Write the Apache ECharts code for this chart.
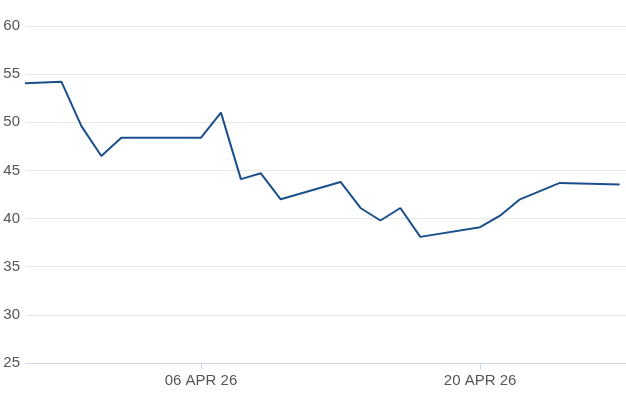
<!DOCTYPE html>
<html>
<head>
<meta charset="utf-8">
<script src="https://cdn.jsdelivr.net/npm/echarts@6/dist/echarts.min.js"></script>
<style>html,body{margin:0;padding:0;background:#fff}#c{width:626px;height:417px}</style>
</head>
<body>
<div id="c"></div>
<script>
const dates = ['2026-03-27','2026-03-30','2026-03-31','2026-04-01','2026-04-02','2026-04-06','2026-04-07','2026-04-08','2026-04-09','2026-04-10','2026-04-13','2026-04-14','2026-04-15','2026-04-16','2026-04-17','2026-04-20','2026-04-21','2026-04-22','2026-04-24','2026-04-27'];
const values = [53.95,54.2,49.6,46.5,48.4,48.4,51.0,44.1,44.7,42.0,43.8,41.1,39.8,41.1,38.1,39.1,40.3,42.0,43.7,43.55];
const tickDates = ['2026-04-06','2026-04-20'];
const axisStart = '2026-03-28T05:17:00Z';
const axisEnd = '2026-04-27T07:41:00Z';
const yTicks = [25,30,35,40,45,50,55,60];

const months = ['JAN','FEB','MAR','APR','MAY','JUN','JUL','AUG','SEP','OCT','NOV','DEC'];
const ts = d => Date.parse(d + 'T00:00:00Z');
const fmt = v => { const d = new Date(v); return String(d.getUTCDate()).padStart(2,'0') + ' ' + months[d.getUTCMonth()] + ' ' + String(d.getUTCFullYear()).slice(2); };

const chart = echarts.init(document.getElementById('c'), null, {renderer:'canvas'});
chart.setOption({
  animation: false,
  grid: {left: 26, right: 0, top: 26, bottom: 54, containLabel: false},
  xAxis: {
    type: 'value',
    min: Date.parse(axisStart),
    max: Date.parse(axisEnd),
    axisLine: {show: true, onZero: false, lineStyle: {color: '#ccd6eb', width: 1}},
    axisTick: {show: true, length: 6, lineStyle: {color: '#ccd6eb'}, customValues: tickDates.map(ts)},
    axisLabel: {customValues: tickDates.map(ts), formatter: v => fmt(v), color: '#555555', fontSize: 15, fontFamily: 'Liberation Sans, Arial, sans-serif', margin: 10},
    splitLine: {show: false}
  },
  yAxis: {
    type: 'value',
    min: yTicks[0], max: yTicks[yTicks.length - 1], interval: 5,
    axisLine: {show: false},
    axisTick: {show: false},
    axisLabel: {color: '#555555', fontSize: 15, fontFamily: 'Liberation Sans, Arial, sans-serif', margin: 6},
    splitLine: {lineStyle: {color: '#e6e6e6', width: 1}}
  },
  series: [{
    type: 'line',
    data: dates.map((d, i) => [ts(d), values[i]]),
    showSymbol: false,
    clip: true,
    lineStyle: {color: '#1a4f8b', width: 2},
    itemStyle: {color: '#1a4f8b'}
  }]
});
</script>
</body>
</html>
